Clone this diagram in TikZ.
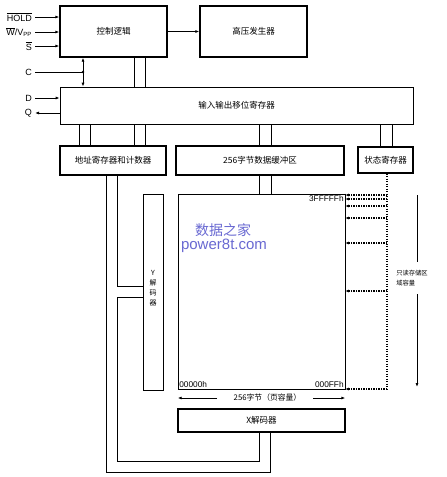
\documentclass[tikz,border=0pt]{standalone}
\usepackage{fontspec}
\setmainfont{Liberation Sans}
\newfontfamily\cjk{Noto Sans CJK SC}
\usetikzlibrary{arrows.meta}
\definecolor{wmblue}{RGB}{105,105,210}

\begin{document}
\begin{tikzpicture}[x=1pt, y=-1pt,
  blk/.style={draw, line width=1.3pt, font=\cjk\fontsize{8.5}{10}\selectfont, inner sep=0pt},
  blkthin/.style={draw, line width=0.7pt, font=\cjk\fontsize{8.5}{10}\selectfont, inner sep=0pt},
  pin/.style={font=\fontsize{9}{10}\selectfont, anchor=east, inner sep=1pt},
  bus/.style={line width=0.8pt},
  sig/.style={line width=0.8pt, -{Latex[length=4pt,width=3pt]}},
  dotln/.style={line width=1.2pt, dash pattern=on 1.2pt off 1.3pt},
  adr/.style={font=\fontsize{8.3}{9}\selectfont, inner sep=1.5pt},
  small/.style={font=\cjk\fontsize{7}{10}\selectfont, inner sep=0pt}]
  \useasboundingbox[fill=white] (0,0) rectangle (447,477);

  % blocks
  \node[blk, minimum width=107pt, minimum height=51pt] (ctl) at (113.5,31.5) {控制逻辑};
  \node[blk, minimum width=107pt, minimum height=51pt] (hv) at (253.5,31.5) {高压发生器};
  \node[blkthin, minimum width=353pt, minimum height=37pt] (io) at (236.5,105.5) {输入输出移位寄存器};
  \node[blk, minimum width=106pt, minimum height=29pt] (addr) at (113,160.5) {地址寄存器和计数器};
  \node[blk, minimum width=168pt, minimum height=29pt] (buf) at (260,160.5) {256字节数据缓冲区};
  \node[blk, minimum width=55pt, minimum height=26pt] (stat) at (385.5,160) {状态寄存器};
  \node[blkthin, minimum width=167pt, minimum height=195pt] (mem) at (261.5,291.5) {};
  \node[draw, line width=1pt, minimum width=20pt, minimum height=196pt] (ydec) at (153,292) {};
  \node[blk, minimum width=167pt, minimum height=23pt] (xdec) at (261.5,420.5) {X解码器};
  \draw[line width=1.3pt] (mem.north east) -- (mem.south east);

  % watermark
  \node[text=wmblue, font=\cjk\fontsize{14}{14}\selectfont] (wm1) at (223,230) {数据之家};
  \node[text=wmblue, font=\fontsize{15}{15}\selectfont] (wm2) at (224,246) {power8t.com};

  % pins
  \foreach \n/\y/\t in {hold/17/{\(\overline{\mbox{HOLD}}\)},
                        wvpp/32/{\(\overline{\mbox{W}}\)/V\textsubscript{PP}},
                        sel/46/{\(\overline{\mbox{S}}\)}} {
    \coordinate (\n) at (35,\y);
    \node[pin] (\n-l) at (33,\y) {\t};
    \draw[sig] (\n) -- (\n -| ctl.west);
  }
  \coordinate (cin) at (35,72);
  \coordinate (din) at (35,98);
  \coordinate (qout) at (35,113);
  \node[pin] (cin-l) at (33,72) {C};
  \node[pin] (din-l) at (33,98) {D};
  \node[pin] (qout-l) at (33,113) {Q};
  \draw[bus] (cin) -- (cin -| 83,0);
  \fill (cin -| 83,0) circle (1.3pt);
  \draw[sig, {Latex[length=4pt,width=3pt]}-{Latex[length=4pt,width=3pt]}] (ctl.south -| 83,0) -- (io.north -| 83,0);
  \draw[sig] (din) -- (din -| io.west);
  \draw[sig] (qout -| io.west) -- (qout);
  \draw[sig] (ctl) -- (hv);

  % buses
  \foreach \bx/\a/\b in {134/ctl/io, 145/ctl/io, 79/io/addr, 90/io/addr, 134/io/addr, 145/io/addr,
                         259/io/buf, 271/io/buf, 380/io/stat, 392/io/stat, 259/buf/mem, 271/buf/mem}
    \draw[bus] (\a.south -| \bx,0) -- (\b.north -| \bx,0);
  \draw[bus] (addr.south -| 106,0) -- (106,472) -- (270,472) -- (xdec.south -| 270,0);
  \draw[bus] (addr.south -| 117,0) -- (117,286) -- (ydec.west |- 0,286);
  \draw[bus] (ydec.west |- 0,297) -- (117,297) -- (117,461) -- (259,461) -- (xdec.south -| 259,0);

  % labels
  \node[small, align=center] (ylab) at (153,288) {Y\\解\\码\\器};
  \node[adr, anchor=north east] (a-top) at (mem.north east) {3FFFFFh};
  \node[adr, anchor=south west] (a-low) at (mem.south west) {00000h};
  \node[adr, anchor=south east] (a-pg) at (mem.south east) {000FFh};
  \node[small, font=\cjk\fontsize{7.8}{9}\selectfont] (pg) at (267.5,398) {256字节（页容量）};
  \coordinate (pgl) at (217,398);
  \coordinate (pgr) at (313,398);
  \draw[sig] (pgl) -- (pgl -| mem.west);
  \draw[sig] (pgr) -- (pgr -| mem.east);

  % read-only area
  \coordinate (tap) at (stat.south -| 387,0);
  \draw[dotln] (tap) -- (387,389);
  \foreach \y in {195,199,206,218,243,291,389}
    \draw[dotln, -{Latex[length=3.5pt,width=3pt]}] (387,\y) -- (mem.east |- 0,\y);
  \node[small, font=\cjk\fontsize{6.3}{10}\selectfont, align=left, inner ysep=8pt] (rom) at (412,278) {只读存储区\\域容量};
  \draw[bus] (417,195) -- (rom.north -| 417,0);
  \draw[sig] (rom.south -| 417,0) -- (417,387);
\end{tikzpicture}
\end{document}
